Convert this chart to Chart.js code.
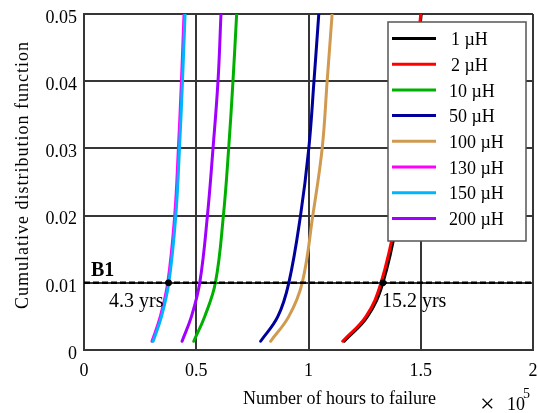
<!DOCTYPE html>
<html>
<head>
<meta charset="utf-8">
<script src="https://cdn.jsdelivr.net/npm/chart.js@4.4.1/dist/chart.umd.min.js"></script>
<style>
  body { margin: 0; background: #fff; }
  canvas { display: block; }
</style>
</head>
<body>
<canvas id="cdf" width="538" height="413"></canvas>
<script>
// CDF levels where each curve was sampled
const cdfLevels = [0.0013, 0.005, 0.01, 0.02, 0.03, 0.04, 0.05];

// Hours to failure at each CDF level, one array per inductance
const hours1uH = [115900, 126300, 133150, 139900, 144100, 147300, 150200];
const hours2uH = [115240, 125640, 132300, 139300, 143700, 147000, 150000];
const hours10uH = [48890, 53780, 58530, 62090, 64440, 66360, 68000];
const hours50uH = [78670, 86360, 91240, 96440, 100130, 102440, 104580];
const hours100uH = [83110, 91240, 97200, 101910, 106090, 108310, 110530];
const hours130uH = [30300, 34000, 37300, 40400, 42050, 43400, 44550];
const hours150uH = [30800, 34530, 37780, 40890, 42530, 43870, 45020];
const hours200uH = [43690, 47870, 51560, 54980, 57470, 59690, 61020];

const seriesNames = ["1 µH", "2 µH", "10 µH", "50 µH", "100 µH", "130 µH", "150 µH", "200 µH"];
const seriesHours = [hours1uH, hours2uH, hours10uH, hours50uH, hours100uH, hours130uH, hours150uH, hours200uH];
const seriesColors = ["#000000", "#ff0000", "#00b000", "#00009c", "#d09a50", "#ff00ff", "#00b4ff", "#a000ff"];

// B1 life line and the two marked lifetimes (years)
const b1Level = 0.01;
const markedYears = [4.3, 15.2];
const hoursPerYear = 8760;

const xTicks = [0, 50000, 100000, 150000, 200000];
const yTicks = [0, 0.01, 0.02, 0.03, 0.04, 0.05];

const serif = "'Liberation Serif', 'DejaVu Serif', serif";
const gridColor = "#363636";

const curveSets = seriesNames.map((name, i) => ({
  label: name,
  data: seriesHours[i].map((h, j) => ({ x: h, y: cdfLevels[j] })),
  borderColor: seriesColors[i],
  borderWidth: 3,
  pointRadius: 0,
  tension: 0.4,
  borderCapStyle: "round",
  order: 20 - i, // later series sit on top
}));

const b1Line = {
  label: "B1",
  data: [{ x: xTicks[0], y: b1Level }, { x: xTicks[xTicks.length - 1], y: b1Level }],
  borderColor: "#000",
  borderWidth: 2.5,
  borderDash: [6, 3],
  pointRadius: 0,
  order: 1,
};

const b1Points = {
  label: "B1 life",
  data: markedYears.map((y) => ({ x: y * hoursPerYear, y: b1Level })),
  showLine: false,
  pointRadius: 3,
  pointBackgroundColor: "#000",
  pointBorderColor: "#000",
  order: 0,
};

// Legend box, annotations and axis titles drawn on top of the plot
const overlay = {
  id: "overlay",
  afterDatasetsDraw(chart) {
    const ctx = chart.ctx;
    const xs = chart.scales.x;
    const ys = chart.scales.y;
    ctx.save();

    // B1 and lifetime labels
    const yB1 = ys.getPixelForValue(b1Level);
    ctx.fillStyle = "#000";
    ctx.textBaseline = "alphabetic";
    ctx.font = "bold 20px " + serif;
    ctx.textAlign = "left";
    ctx.fillText("B1", xs.getPixelForValue(0) + 7, yB1 - 7);
    ctx.font = "20px " + serif;
    ctx.textAlign = "right";
    ctx.fillText(markedYears[0] + " yrs", xs.getPixelForValue(markedYears[0] * hoursPerYear) - 5, yB1 + 24);
    ctx.textAlign = "left";
    ctx.fillText(markedYears[1] + " yrs", xs.getPixelForValue(markedYears[1] * hoursPerYear) - 1, yB1 + 24);

    // legend
    const lx = 388, ly = 22, lw = 138, lh = 219;
    ctx.fillStyle = "#fff";
    ctx.fillRect(lx, ly, lw, lh);
    ctx.strokeStyle = "#555";
    ctx.lineWidth = 1.5;
    ctx.strokeRect(lx, ly, lw, lh);
    ctx.font = "18px " + serif;
    ctx.textBaseline = "middle";
    seriesNames.forEach((name, i) => {
      const ry = 38.5 + i * 25.7;
      ctx.strokeStyle = seriesColors[i];
      ctx.lineWidth = 3;
      ctx.beginPath();
      ctx.moveTo(392, ry);
      ctx.lineTo(436, ry);
      ctx.stroke();
      ctx.fillStyle = "#000";
      ctx.fillText(name, name.length < 5 ? 451 : 449, ry + 2);
    });

    // axis titles
    ctx.fillStyle = "#000";
    ctx.textBaseline = "alphabetic";
    ctx.textAlign = "left";
    ctx.font = "18px " + serif;
    ctx.fillText("Number of hours to failure", 243, 404);
    ctx.font = "26px " + serif;
    ctx.fillText("×", 480, 412);
    ctx.font = "18px " + serif;
    ctx.fillText("10", 507, 410);
    ctx.font = "14px " + serif;
    ctx.fillText("5", 523, 398);

    ctx.translate(28, 175);
    ctx.rotate(-Math.PI / 2);
    ctx.textAlign = "center";
    ctx.font = "18px " + serif;
    ctx.letterSpacing = "1px";
    ctx.fillText("Cumulative distribution function", 0, 0);
    ctx.restore();
  },
};

new Chart(document.getElementById("cdf"), {
  type: "line",
  data: { datasets: [...curveSets, b1Line, b1Points] },
  plugins: [overlay],
  options: {
    responsive: false,
    animation: false,
    events: [],
    layout: { padding: { top: 14, right: 4, left: 0, bottom: 0 } },
    plugins: { legend: { display: false }, tooltip: { enabled: false } },
    scales: {
      x: {
        type: "linear",
        min: xTicks[0],
        max: xTicks[xTicks.length - 1],
        afterBuildTicks: (s) => { s.ticks = xTicks.map((v) => ({ value: v })); },
        afterFit: (s) => {
          s.height = 63;
          s.paddingLeft = 0;
          s.paddingRight = 0;
        },
        ticks: {
          color: "#000",
          font: { family: serif, size: 18 },
          padding: 10,
          maxRotation: 0,
          callback: (v) => String(v / 100000),
        },
        grid: { color: gridColor, lineWidth: 2, drawTicks: false },
        border: { color: gridColor, width: 2 },
      },
      y: {
        type: "linear",
        min: yTicks[0],
        max: yTicks[yTicks.length - 1],
        afterBuildTicks: (s) => { s.ticks = yTicks.map((v) => ({ value: v })); },
        afterFit: (s) => {
          s.width = 84;
          s.paddingTop = 0;
          s.paddingBottom = 0;
        },
        ticks: {
          color: "#000",
          font: { family: serif, size: 18 },
          padding: 7,
          labelOffset: 4,
          callback: (v) => (v === 0 ? "0" : v.toFixed(2)),
        },
        grid: { color: gridColor, lineWidth: 2, drawTicks: false },
        border: { color: gridColor, width: 2 },
      },
    },
  },
});
</script>
</body>
</html>
